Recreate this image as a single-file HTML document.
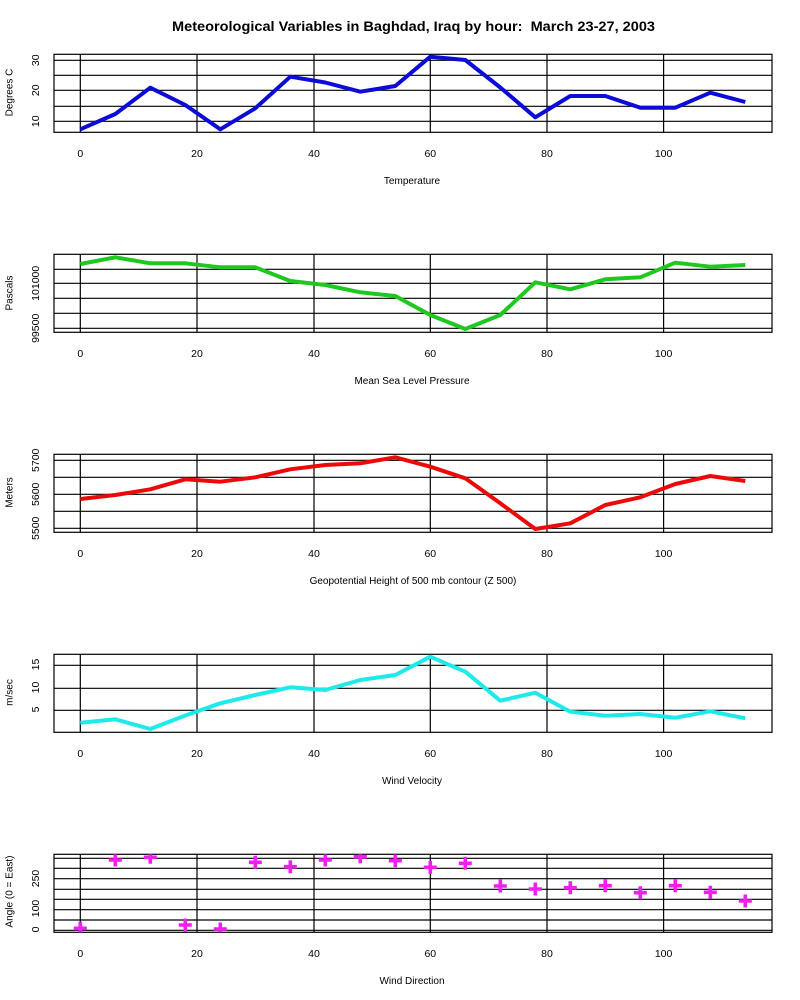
<!DOCTYPE html>
<html>
<head>
<meta charset="utf-8">
<style>
html,body{margin:0;padding:0;background:#fff;}
svg{display:block;}
text{font-family:"Liberation Sans",Arial,sans-serif;fill:#000;}
</style>
</head>
<body>
<svg width="800" height="1000" viewBox="0 0 800 1000" xmlns="http://www.w3.org/2000/svg">
<defs>
<clipPath id="c1"><rect x="54" y="54.3" width="718" height="78"/></clipPath>
<clipPath id="c2"><rect x="54" y="254.3" width="718" height="78"/></clipPath>
<clipPath id="c3"><rect x="54" y="454.3" width="718" height="78"/></clipPath>
<clipPath id="c4"><rect x="54" y="654.3" width="718" height="78"/></clipPath>
<clipPath id="c5"><rect x="54" y="854.3" width="718" height="78"/></clipPath>
</defs>
<rect width="800" height="1000" fill="#fff"/>

<text x="413.5" y="31" font-size="14" font-weight="bold" text-anchor="middle" textLength="483" lengthAdjust="spacingAndGlyphs">Meteorological Variables in Baghdad, Iraq by hour:&#160; March 23-27, 2003</text>

<!-- ============ Panel 1: Temperature ============ -->
<g stroke="#000" stroke-width="1.2" fill="none">
<rect x="54" y="54.3" width="718" height="78"/>
<line x1="54" x2="772" y1="60.3" y2="60.3"/>
<line x1="54" x2="772" y1="75.3" y2="75.3"/>
<line x1="54" x2="772" y1="90.3" y2="90.3"/>
<line x1="54" x2="772" y1="106.3" y2="106.3"/>
<line x1="54" x2="772" y1="121.3" y2="121.3"/>
<line x1="80.3" x2="80.3" y1="54.3" y2="132.3"/>
<line x1="197" x2="197" y1="54.3" y2="132.3"/>
<line x1="314" x2="314" y1="54.3" y2="132.3"/>
<line x1="430.3" x2="430.3" y1="54.3" y2="132.3"/>
<line x1="547" x2="547" y1="54.3" y2="132.3"/>
<line x1="663.6" x2="663.6" y1="54.3" y2="132.3"/>
</g>
<polyline clip-path="url(#c1)" fill="none" stroke="#0c0cd6" stroke-width="4" stroke-linejoin="round" points="80.3,129.3 115.3,114 150.3,87.7 185.3,105 220.3,129.3 255.3,108.3 290.3,76.7 325.3,82.5 360.3,91.7 395.3,86 430.3,56.7 465.3,60 500.3,87.5 535.3,117.3 570.3,96 605.3,96 640.3,107.7 675.3,107.7 710.3,92.7 745.3,102"/>
<g font-size="10.5" text-anchor="middle">
<text x="80.3" y="157">0</text><text x="197" y="157">20</text><text x="314" y="157">40</text>
<text x="430.3" y="157">60</text><text x="547" y="157">80</text><text x="663.6" y="157">100</text>
<text transform="rotate(-90 39 121.3)" x="39" y="121.3">10</text>
<text transform="rotate(-90 39 90.3)" x="39" y="90.3">20</text>
<text transform="rotate(-90 39 60.3)" x="39" y="60.3">30</text>
</g>
<g font-size="10" text-anchor="middle">
<text x="412" y="184">Temperature</text>
<text transform="rotate(-90 12.5 92.5)" x="12.5" y="92.5">Degrees C</text>
</g>

<!-- ============ Panel 2: Pressure ============ -->
<g stroke="#000" stroke-width="1.2" fill="none">
<rect x="54" y="254.3" width="718" height="78"/>
<line x1="54" x2="772" y1="269.3" y2="269.3"/>
<line x1="54" x2="772" y1="283.3" y2="283.3"/>
<line x1="54" x2="772" y1="298.3" y2="298.3"/>
<line x1="54" x2="772" y1="313.3" y2="313.3"/>
<line x1="54" x2="772" y1="328.3" y2="328.3"/>
<line x1="80.3" x2="80.3" y1="254.3" y2="332.3"/>
<line x1="197" x2="197" y1="254.3" y2="332.3"/>
<line x1="314" x2="314" y1="254.3" y2="332.3"/>
<line x1="430.3" x2="430.3" y1="254.3" y2="332.3"/>
<line x1="547" x2="547" y1="254.3" y2="332.3"/>
<line x1="663.6" x2="663.6" y1="254.3" y2="332.3"/>
</g>
<polyline clip-path="url(#c2)" fill="none" stroke="#1ec81e" stroke-width="4" stroke-linejoin="round" points="80.3,264 115.3,257.3 150.3,263.3 185.3,263.3 220.3,267.3 255.3,267.3 290.3,281 325.3,285 360.3,292.3 395.3,296 430.3,315 465.3,329 500.3,315 535.3,282.3 570.3,289.3 605.3,279.3 640.3,277.3 675.3,262.7 710.3,266.7 745.3,265"/>
<g font-size="10.5" text-anchor="middle">
<text x="80.3" y="357">0</text><text x="197" y="357">20</text><text x="314" y="357">40</text>
<text x="430.3" y="357">60</text><text x="547" y="357">80</text><text x="663.6" y="357">100</text>
<text transform="rotate(-90 39 328.3)" x="39" y="328.3">99500</text>
<text transform="rotate(-90 39 283.3)" x="39" y="283.3">101000</text>
</g>
<g font-size="10" text-anchor="middle">
<text x="412" y="384">Mean Sea Level Pressure</text>
<text transform="rotate(-90 12.5 293)" x="12.5" y="293">Pascals</text>
</g>

<!-- ============ Panel 3: Geopotential ============ -->
<g stroke="#000" stroke-width="1.2" fill="none">
<rect x="54" y="454.3" width="718" height="78"/>
<line x1="54" x2="772" y1="460.3" y2="460.3"/>
<line x1="54" x2="772" y1="477.3" y2="477.3"/>
<line x1="54" x2="772" y1="494.3" y2="494.3"/>
<line x1="54" x2="772" y1="511.3" y2="511.3"/>
<line x1="54" x2="772" y1="528.3" y2="528.3"/>
<line x1="80.3" x2="80.3" y1="454.3" y2="532.3"/>
<line x1="197" x2="197" y1="454.3" y2="532.3"/>
<line x1="314" x2="314" y1="454.3" y2="532.3"/>
<line x1="430.3" x2="430.3" y1="454.3" y2="532.3"/>
<line x1="547" x2="547" y1="454.3" y2="532.3"/>
<line x1="663.6" x2="663.6" y1="454.3" y2="532.3"/>
</g>
<polyline clip-path="url(#c3)" fill="none" stroke="#ea0a0a" stroke-width="4" stroke-linejoin="round" points="80.3,499 115.3,495 150.3,489.3 185.3,479.3 220.3,481.7 255.3,477.3 290.3,469.3 325.3,465 360.3,463.3 395.3,457.3 430.3,466.7 465.3,478.3 500.3,503.3 535.3,529 570.3,523.3 605.3,505 640.3,497.3 675.3,484 710.3,476 745.3,481"/>
<g font-size="10.5" text-anchor="middle">
<text x="80.3" y="557">0</text><text x="197" y="557">20</text><text x="314" y="557">40</text>
<text x="430.3" y="557">60</text><text x="547" y="557">80</text><text x="663.6" y="557">100</text>
<text transform="rotate(-90 39 528.3)" x="39" y="528.3">5500</text>
<text transform="rotate(-90 39 494.3)" x="39" y="494.3">5600</text>
<text transform="rotate(-90 39 460.3)" x="39" y="460.3">5700</text>
</g>
<g font-size="10" text-anchor="middle">
<text x="413" y="584">Geopotential Height of 500 mb contour (Z 500)</text>
<text transform="rotate(-90 12.5 492.5)" x="12.5" y="492.5">Meters</text>
</g>

<!-- ============ Panel 4: Wind Velocity ============ -->
<g stroke="#000" stroke-width="1.2" fill="none">
<rect x="54" y="654.3" width="718" height="78"/>
<line x1="54" x2="772" y1="665.3" y2="665.3"/>
<line x1="54" x2="772" y1="688.3" y2="688.3"/>
<line x1="54" x2="772" y1="710.3" y2="710.3"/>
<line x1="80.3" x2="80.3" y1="654.3" y2="732.3"/>
<line x1="197" x2="197" y1="654.3" y2="732.3"/>
<line x1="314" x2="314" y1="654.3" y2="732.3"/>
<line x1="430.3" x2="430.3" y1="654.3" y2="732.3"/>
<line x1="547" x2="547" y1="654.3" y2="732.3"/>
<line x1="663.6" x2="663.6" y1="654.3" y2="732.3"/>
</g>
<polyline clip-path="url(#c4)" fill="none" stroke="#1eeaea" stroke-width="4" stroke-linejoin="round" points="80.3,722.7 115.3,719.3 150.3,729 185.3,715.5 220.3,703.3 255.3,695 290.3,687.3 325.3,690 360.3,680 395.3,675 430.3,656.7 465.3,671.7 500.3,700.7 535.3,692.7 570.3,711.7 605.3,715.7 640.3,714 675.3,717.7 710.3,711.3 745.3,718.3"/>
<g font-size="10.5" text-anchor="middle">
<text x="80.3" y="757">0</text><text x="197" y="757">20</text><text x="314" y="757">40</text>
<text x="430.3" y="757">60</text><text x="547" y="757">80</text><text x="663.6" y="757">100</text>
<text transform="rotate(-90 39 709.5)" x="39" y="709.5">5</text>
<text transform="rotate(-90 39 687.5)" x="39" y="687.5">10</text>
<text transform="rotate(-90 39 664.5)" x="39" y="664.5">15</text>
</g>
<g font-size="10" text-anchor="middle">
<text x="412" y="784">Wind Velocity</text>
<text transform="rotate(-90 12.5 692.5)" x="12.5" y="692.5">m/sec</text>
</g>

<!-- ============ Panel 5: Wind Direction ============ -->
<g stroke="#000" stroke-width="1.2" fill="none">
<rect x="54" y="854.3" width="718" height="78"/>
<line x1="54" x2="772" y1="858.3" y2="858.3"/>
<line x1="54" x2="772" y1="868.3" y2="868.3"/>
<line x1="54" x2="772" y1="878.7" y2="878.7"/>
<line x1="54" x2="772" y1="889.3" y2="889.3"/>
<line x1="54" x2="772" y1="899.3" y2="899.3"/>
<line x1="54" x2="772" y1="909.7" y2="909.7"/>
<line x1="54" x2="772" y1="920" y2="920"/>
<line x1="54" x2="772" y1="930.3" y2="930.3"/>
<line x1="80.3" x2="80.3" y1="854.3" y2="932.3"/>
<line x1="197" x2="197" y1="854.3" y2="932.3"/>
<line x1="314" x2="314" y1="854.3" y2="932.3"/>
<line x1="430.3" x2="430.3" y1="854.3" y2="932.3"/>
<line x1="547" x2="547" y1="854.3" y2="932.3"/>
<line x1="663.6" x2="663.6" y1="854.3" y2="932.3"/>
</g>
<path clip-path="url(#c5)" fill="none" stroke="#f01ef0" stroke-width="3.6" d="
M73.8 928.3H86.8M80.3 921.8V934.8
M108.8 860H121.8M115.3 853.5V866.5
M143.8 857.3H156.8M150.3 850.8V863.8
M178.8 925H191.8M185.3 918.5V931.5
M213.8 929H226.8M220.3 922.5V935.5
M248.8 862.3H261.8M255.3 855.8V868.8
M283.8 866.7H296.8M290.3 860.2V873.2
M318.8 860H331.8M325.3 853.5V866.5
M353.8 856.7H366.8M360.3 850.2V863.2
M388.8 860.7H401.8M395.3 854.2V867.2
M423.8 867.3H436.8M430.3 860.8V873.8
M458.8 863.3H471.8M465.3 856.8V869.8
M493.8 886H506.8M500.3 879.5V892.5
M528.8 889H541.8M535.3 882.5V895.5
M563.8 887.7H576.8M570.3 881.2V894.2
M598.8 885.7H611.8M605.3 879.2V892.2
M633.8 892.7H646.8M640.3 886.2V899.2
M668.8 885.7H681.8M675.3 879.2V892.2
M703.8 892.3H716.8M710.3 885.8V898.8
M738.8 901H751.8M745.3 894.5V907.5"/>
<g font-size="10.5" text-anchor="middle">
<text x="80.3" y="957">0</text><text x="197" y="957">20</text><text x="314" y="957">40</text>
<text x="430.3" y="957">60</text><text x="547" y="957">80</text><text x="663.6" y="957">100</text>
<text transform="rotate(-90 39 929.5)" x="39" y="929.5">0</text>
<text transform="rotate(-90 39 908.5)" x="39" y="908.5">100</text>
<text transform="rotate(-90 39 878.5)" x="39" y="878.5">250</text>
</g>
<g font-size="10" text-anchor="middle">
<text x="412" y="984">Wind Direction</text>
<text transform="rotate(-90 12.5 891.5)" x="12.5" y="891.5">Angle (0 = East)</text>
</g>
</svg>
</body>
</html>
